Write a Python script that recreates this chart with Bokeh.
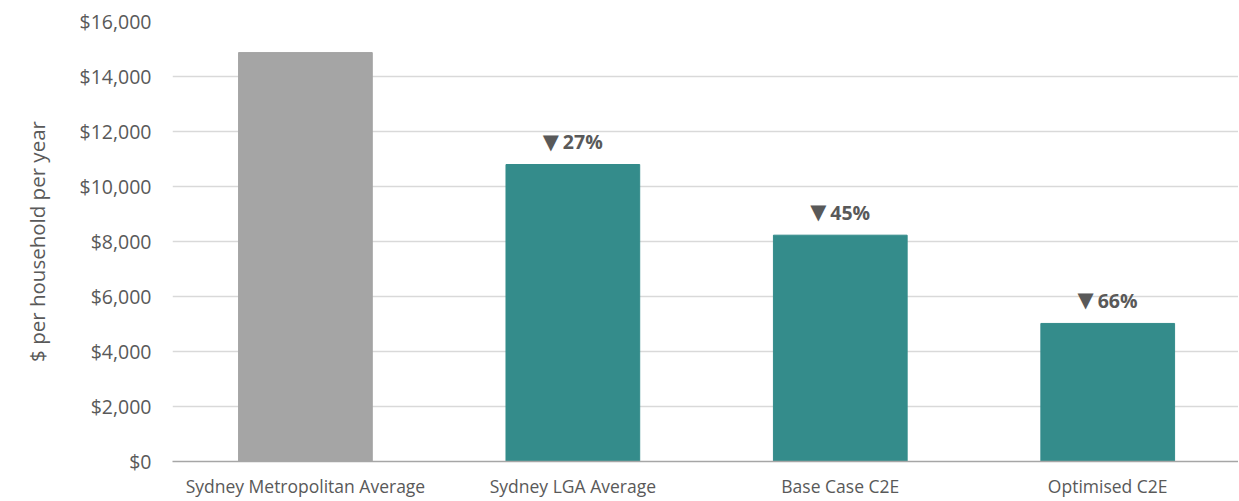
from bokeh.plotting import figure
from bokeh.models import ColumnDataSource, NumeralTickFormatter, FixedTicker, Range1d
from bokeh.core.properties import value
from bokeh.embed import file_html
from bokeh.resources import INLINE

categories = ["Sydney Metropolitan Average", "Sydney LGA Average", "Base Case C2E", "Optimised C2E"]
costs = [14870, 10800, 8230, 5020]
reductions = ["", "27%", "45%", "66%"]
bar_colors = ["#A5A5A5", "#348C8B", "#348C8B", "#348C8B"]
y_ticks = [0, 2000, 4000, 6000, 8000, 10000, 12000, 14000, 16000]

FONT = "Open Sans"
TXT = "#595959"

xpos = list(range(len(categories)))
arrows = ["\u25BC" if r else "" for r in reductions]
src = ColumnDataSource(dict(x=xpos, cost=costs, lab=reductions, arrow=arrows, color=bar_colors))

p = figure(x_range=Range1d(-0.497, 3.489), y_range=Range1d(0, 16000), width=1238, height=500,
           output_backend="svg", toolbar_location=None,
           min_border_left=172, min_border_right=0, min_border_top=21, min_border_bottom=39)
p.outline_line_color = None
p.background_fill_color = "white"
p.border_fill_color = "white"

p.vbar(x="x", top="cost", width=0.5, color="color", source=src)
p.text(x="x", y="cost", text="arrow", source=src, text_align="right", text_baseline="middle",
       x_offset=-14, y_offset=-23, text_font=value("DejaVu Sans"), text_font_size="21px",
       text_color=TXT)
p.text(x="x", y="cost", text="lab", source=src, text_align="left", text_baseline="middle",
       x_offset=-10, y_offset=-23, text_font=value(FONT), text_font_size="19.5px",
       text_font_style="bold", text_color=TXT)

p.xaxis.ticker = FixedTicker(ticks=xpos)
p.xaxis.major_label_overrides = {i: c for i, c in zip(xpos, categories)}
p.xaxis.axis_line_color = "#A6A6A6"
p.xaxis.axis_line_width = 1.5
p.xaxis.major_tick_line_color = None
p.xaxis.major_tick_out = 0
p.xaxis.major_tick_in = 0
p.xaxis.minor_tick_line_color = None
p.xaxis.major_label_text_font = FONT
p.xaxis.major_label_text_font_size = "17.5px"
p.xaxis.major_label_text_color = TXT
p.xaxis.major_label_standoff = 12
p.xgrid.grid_line_color = None

p.yaxis.ticker = FixedTicker(ticks=y_ticks)
p.yaxis.formatter = NumeralTickFormatter(format="$0,0")
p.yaxis.axis_line_color = None
p.yaxis.major_tick_line_color = None
p.yaxis.major_tick_out = 0
p.yaxis.major_tick_in = 0
p.yaxis.minor_tick_line_color = None
p.yaxis.major_label_text_font = FONT
p.yaxis.major_label_text_font_size = "19.5px"
p.yaxis.major_label_text_color = TXT
p.yaxis.major_label_standoff = 21
p.yaxis.axis_label = "$ per household per year"
p.yaxis.axis_label_text_font = FONT
p.yaxis.axis_label_text_font_size = "20.5px"
p.yaxis.axis_label_text_font_style = "normal"
p.yaxis.axis_label_text_color = TXT
p.yaxis.axis_label_standoff = 26
p.ygrid.grid_line_color = "#D9D9D9"
p.ygrid.grid_line_width = 1.5

open("out.html", "w").write(file_html(p, INLINE))
